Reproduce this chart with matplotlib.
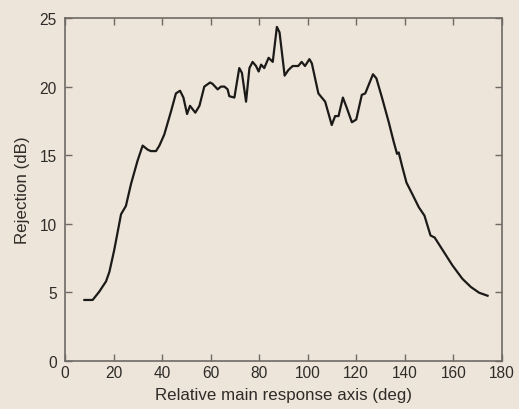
import matplotlib
matplotlib.use('Agg')
import matplotlib.pyplot as plt

# Rejection vs relative angle
angle = [8.0, 11.4, 14.1, 16.9, 18.3, 20.3, 23.1, 25.1, 27.2, 29.9, 32.0, 34.1, 35.4,
         37.5, 38.9, 40.9, 43.7, 45.7, 47.4, 48.8, 50.3, 51.5, 53.7, 55.4, 57.4, 59.8,
         60.8, 62.9, 64.3, 65.7, 67.0, 67.7, 69.8, 71.8, 72.9, 74.6, 76.0, 77.3, 78.7,
         79.8, 80.8, 82.1, 83.9, 85.6, 87.3, 88.4, 90.5, 92.0, 93.8, 96.1, 97.5, 98.9,
         100.7, 101.7, 104.4, 107.2, 109.9, 111.3, 112.7, 114.5, 116.1, 118.2, 120.0,
         122.3, 123.7, 126.9, 128.3, 130.6, 133.4, 135.4, 136.8, 137.5, 138.9, 140.7,
         143.0, 145.8, 148.1, 150.6, 152.3, 156.1, 159.6, 163.7, 167.2, 170.6, 174.1]
rejection = [4.45, 4.45, 5.05, 5.8, 6.5, 8.1, 10.7, 11.3, 12.9, 14.6, 15.7, 15.4, 15.3,
             15.3, 15.7, 16.5, 18.2, 19.5, 19.7, 19.2, 18.0, 18.6, 18.1, 18.6, 20.0, 20.3,
             20.2, 19.8, 20.0, 20.0, 19.8, 19.3, 19.2, 21.35, 21.0, 18.9, 21.35, 21.8, 21.5,
             21.1, 21.6, 21.35, 22.1, 21.8, 24.35, 23.95, 20.8, 21.2, 21.5, 21.5, 21.8, 21.5,
             22.0, 21.7, 19.5, 18.9, 17.2, 17.85, 17.85, 19.2, 18.45, 17.4, 17.6,
             19.4, 19.5, 20.9, 20.6, 19.2, 17.4, 16.0, 15.1, 15.2, 14.2, 13.0,
             12.2, 11.2, 10.6, 9.15, 9.0, 7.95, 6.98, 6.0, 5.4, 4.98, 4.76]

xticks = [0, 20, 40, 60, 80, 100, 120, 140, 160, 180]
yticks = [0, 5, 10, 15, 20, 25]

bg = '#ede5d9'   # parchment tone of the original
spine_col = '#6e6a65'
text_col = '#2e2b28'

plt.rcParams['font.family'] = ['Liberation Sans', 'DejaVu Sans']

fig = plt.figure(figsize=(5.19, 4.10), dpi=100, facecolor=bg)
ax = fig.add_axes([0.1252, 0.117, 0.8418, 0.8367])
ax.set_facecolor(bg)

ax.plot(angle, rejection, color='#1c1a18', lw=1.6)

ax.set_xlim(0, 180)
ax.set_ylim(0, 25)
ax.set_xticks(xticks)
ax.set_yticks(yticks)
ax.tick_params(direction='in', top=True, right=True, length=5, width=1,
               color=spine_col, labelsize=11.2, labelcolor=text_col)
ax.tick_params(axis='y', pad=6)
ax.tick_params(axis='x', pad=3)
for s in ax.spines.values():
    s.set_color(spine_col)
    s.set_linewidth(1.2)

ax.set_xlabel('Relative main response axis (deg)', fontsize=12.2, color=text_col, labelpad=5)
ax.set_ylabel('Rejection (dB)', fontsize=12.2, color=text_col, labelpad=7)

fig.savefig('out.png', dpi=100, facecolor=bg)
